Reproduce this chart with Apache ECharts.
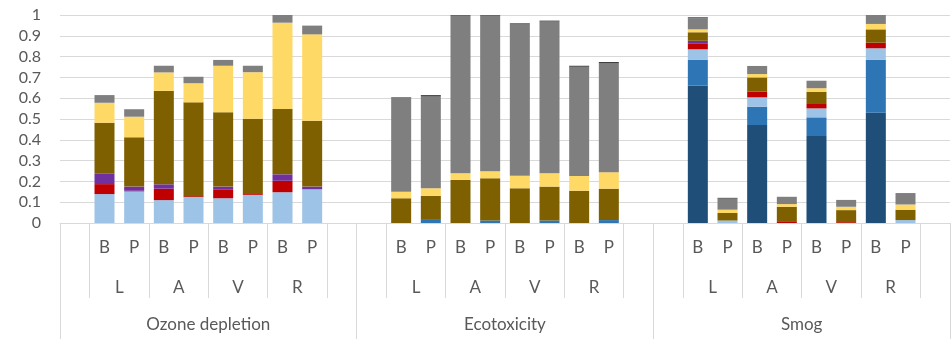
<!DOCTYPE html>
<html>
<head>
<meta charset="utf-8">
<script src="https://cdn.jsdelivr.net/npm/echarts@6/dist/echarts.min.js"></script>
<style>
  html, body { margin: 0; padding: 0; background: #fff; }
  #chart { width: 951px; height: 339px; }
</style>
</head>
<body>
<div id="chart"></div>
<script>
// Impact categories, sites and modes (B / P per site)
const groups = ['Ozone depletion', 'Ecotoxicity', 'Smog'];
const sites = ['L', 'A', 'V', 'R'];
const modes = ['B', 'P'];
const yTicks = [0, 0.1, 0.2, 0.3, 0.4, 0.5, 0.6, 0.7, 0.8, 0.9, 1];

// Stack components, bottom to top. Each array: per group, B/P for L, A, V, R.
const navy = [
  0, 0, 0, 0, 0, 0, 0, 0,
  0, 0, 0, 0, 0, 0, 0, 0,
  0.66, 0, 0.471, 0, 0.418, 0, 0.53, 0
];
const blue = [
  0, 0, 0, 0, 0, 0, 0, 0,
  0, 0.015, 0, 0.012, 0, 0.012, 0, 0.014,
  0.124, 0, 0.088, 0, 0.09, 0, 0.254, 0
];
const lightBlue = [
  0.139, 0.152, 0.11, 0.125, 0.119, 0.135, 0.148, 0.162,
  0, 0, 0, 0, 0, 0, 0, 0,
  0.051, 0.012, 0.045, 0, 0.043, 0, 0.056, 0.014
];
const red = [
  0.048, 0.003, 0.055, 0.004, 0.043, 0.004, 0.055, 0,
  0, 0, 0, 0, 0, 0, 0, 0,
  0.029, 0, 0.027, 0.005, 0.021, 0.004, 0.027, 0
];
const purple = [
  0.052, 0.02, 0.021, 0, 0.013, 0, 0.031, 0.013,
  0, 0, 0, 0, 0, 0, 0, 0,
  0.012, 0, 0, 0, 0, 0, 0, 0
];
const brown = [
  0.243, 0.237, 0.449, 0.451, 0.357, 0.362, 0.314, 0.317,
  0.119, 0.115, 0.207, 0.203, 0.167, 0.163, 0.155, 0.151,
  0.041, 0.036, 0.069, 0.073, 0.059, 0.058, 0.064, 0.05
];
const yellow = [
  0.096, 0.099, 0.089, 0.092, 0.224, 0.224, 0.415, 0.415,
  0.031, 0.037, 0.032, 0.034, 0.06, 0.064, 0.071, 0.079,
  0.014, 0.016, 0.016, 0.013, 0.017, 0.016, 0.026, 0.025
];
const gray = [
  0.037, 0.036, 0.032, 0.031, 0.028, 0.031, 0.037, 0.042,
  0.449, 0.443, 0.758, 0.748, 0.728, 0.729, 0.525, 0.525,
  0.053, 0.053, 0.039, 0.035, 0.036, 0.033, 0.043, 0.055
];
const darkGray = [
  0, 0, 0, 0, 0, 0, 0, 0,
  0.005, 0.005, 0.003, 0.003, 0.005, 0.005, 0.005, 0.005,
  0.005, 0.004, 0, 0, 0, 0, 0, 0
];

const components = [
  { name: 'C1', data: navy, color: '#1F4E79' },
  { name: 'C2', data: blue, color: '#2E75B6' },
  { name: 'C3', data: lightBlue, color: '#9DC3E6' },
  { name: 'C4', data: red, color: '#C00000' },
  { name: 'C5', data: purple, color: '#7030A0' },
  { name: 'C6', data: brown, color: '#7F6000' },
  { name: 'C7', data: yellow, color: '#FFD966' },
  { name: 'C8', data: gray, color: '#7F7F7F' },
  { name: 'C9', data: darkGray, color: '#404040' }
];

// Each group occupies 10 slots: an empty slot, 8 bars, an empty slot.
const perGroup = sites.length * modes.length;
const slotLabels = [];
groups.forEach(() => {
  slotLabels.push('');
  sites.forEach(() => modes.forEach(m => slotLabels.push(m)));
  slotLabels.push('');
});
const slotsPerGroup = perGroup + 2;

function toSlots(values) {
  const out = [];
  groups.forEach((g, gi) => {
    out.push(null);
    for (let i = 0; i < perGroup; i++) out.push(values[gi * perGroup + i]);
    out.push(null);
  });
  return out;
}

const lineColor = '#D9D9D9';
const textColor = '#595959';
const font = 'Lato, "Open Sans", sans-serif';

const chart = echarts.init(document.getElementById('chart'));
chart.setOption({
  animation: false,
  grid: { left: 60, right: 1, top: 15, bottom: 116, containLabel: false },
  xAxis: [
    {
      type: 'category',
      data: slotLabels,
      position: 'bottom',
      axisLine: { show: true, lineStyle: { color: lineColor, width: 1 } },
      axisTick: {
        show: true,
        length: 75,
        interval: (i) => (i % slotsPerGroup) % 2 === 1,
        lineStyle: { color: lineColor, width: 1 }
      },
      axisLabel: { interval: 0, margin: 16, fontSize: 17, color: textColor, fontFamily: font },
      splitLine: { show: false }
    },
    {
      type: 'value',
      min: 0,
      max: groups.length * slotsPerGroup,
      interval: modes.length,
      position: 'bottom',
      axisLine: { show: false },
      axisTick: { show: false },
      splitLine: { show: false },
      axisLabel: {
        margin: 56,
        fontSize: 17,
        color: textColor,
        fontFamily: font,
        showMinLabel: false,
        showMaxLabel: false,
        formatter: (v) => {
          const k = Math.round(v) % slotsPerGroup;
          const idx = k / modes.length - 1;
          return (idx >= 0 && idx < sites.length) ? sites[idx] : '';
        }
      }
    },
    {
      type: 'category',
      data: groups,
      position: 'bottom',
      axisLine: { show: false },
      axisTick: { show: true, length: 116, lineStyle: { color: lineColor, width: 1 } },
      axisLabel: { interval: 0, margin: 93, fontSize: 17, color: textColor, fontFamily: font },
      splitLine: { show: false }
    }
  ],
  yAxis: {
    type: 'value',
    min: yTicks[0],
    max: yTicks[yTicks.length - 1],
    interval: 0.1,
    axisLine: { show: false },
    axisTick: { show: false },
    splitLine: { lineStyle: { color: lineColor, width: 1 } },
    axisLabel: { margin: 19, fontSize: 16, color: textColor, fontFamily: font }
  },
  series: components.map(c => ({
    name: c.name,
    type: 'bar',
    stack: 'total',
    xAxisIndex: 0,
    barWidth: 20,
    itemStyle: { color: c.color },
    data: toSlots(c.data)
  }))
});
</script>
</body>
</html>
